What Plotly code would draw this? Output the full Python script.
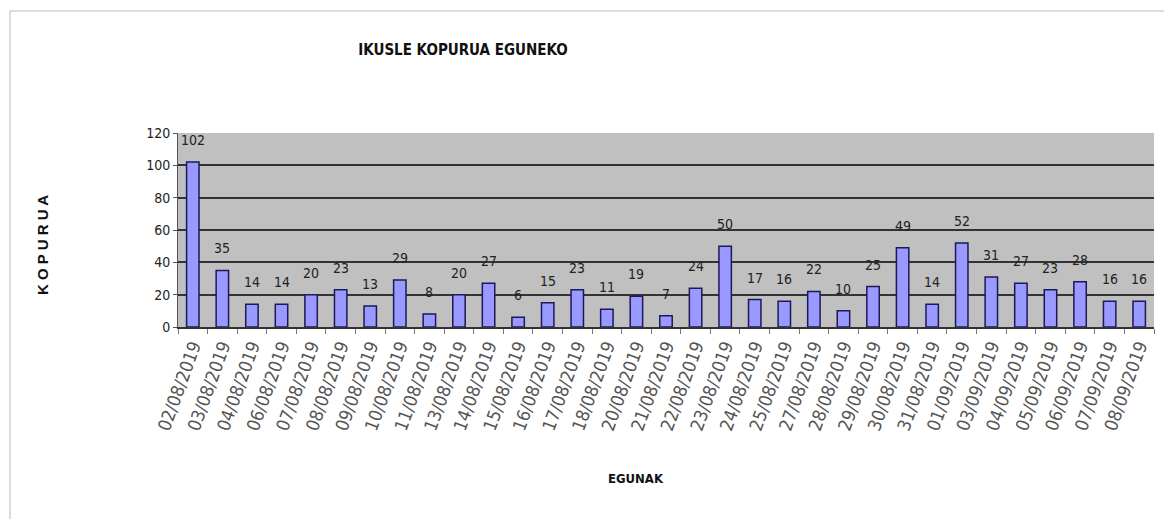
import plotly.graph_objects as go

dates = ["02/08/2019", "03/08/2019", "04/08/2019", "06/08/2019", "07/08/2019", "08/08/2019",
         "09/08/2019", "10/08/2019", "11/08/2019", "13/08/2019", "14/08/2019", "15/08/2019",
         "16/08/2019", "17/08/2019", "18/08/2019", "20/08/2019", "21/08/2019", "22/08/2019",
         "23/08/2019", "24/08/2019", "25/08/2019", "27/08/2019", "28/08/2019", "29/08/2019",
         "30/08/2019", "31/08/2019", "01/09/2019", "03/09/2019", "04/09/2019", "05/09/2019",
         "06/09/2019", "07/09/2019", "08/09/2019"]
values = [102, 35, 14, 14, 20, 23, 13, 29, 8, 20, 27, 6, 15, 23, 11, 19, 7, 24, 50, 17, 16,
          22, 10, 25, 49, 14, 52, 31, 27, 23, 28, 16, 16]
y_ticks = [0, 20, 40, 60, 80, 100, 120]

narrow = "DejaVu Sans Condensed, Liberation Sans Narrow, Liberation Sans, sans-serif"

# page body has an 8px margin; figure coordinates are reference coordinates minus 8
OFF = 8
W, H = 1172 - OFF, 519 - OFF
L, T = 178 - OFF, 133 - OFF
PW, PH = 976, 194
R, B = W - L - PW, H - T - PH


def px(x):
    return (x - 178) / PW


def py(y):
    return (327 - y) / PH


fig = go.Figure(go.Bar(
    x=dates, y=values,
    marker=dict(color="#9999ff", line=dict(color="#1a1a5a", width=1.5)),
    cliponaxis=False,
))

for d, v in zip(dates, values):
    fig.add_annotation(x=d, y=v, text=str(v), showarrow=False, yshift=22, yanchor="middle",
                       font=dict(family=narrow, size=14, color="#222"))

fig.update_layout(
    width=W, height=H,
    margin=dict(l=L, r=R, t=T, b=B, autoexpand=False),
    paper_bgcolor="white", plot_bgcolor="#c0c0c0",
    bargap=0.58, showlegend=False,
    title=dict(text="<b>IKUSLE KOPURUA EGUNEKO</b>", x=(463 - OFF) / W, xref="container", xanchor="center",
               y=1 - (50 - OFF) / H, yref="container", yanchor="middle",
               font=dict(family=narrow, size=15, color="#111")),
)
fig.update_yaxes(range=[0, 120], tickvals=y_ticks, showgrid=True, gridcolor="#333333", gridwidth=1.5,
                 tickfont=dict(family=narrow, size=14, color="#222"), ticks="outside", ticklen=4,
                 tickcolor="#555", showline=True, linecolor="#555", zeroline=False, automargin=False)
fig.update_xaxes(type="category", tickangle=-70, tickfont=dict(family=narrow, size=18, color="#555"),
                 ticks="outside", tickson="boundaries", ticklen=5, tickcolor="#777",
                 showline=True, linecolor="#333", linewidth=1.5, automargin=False)

fig.add_annotation(text="<b>K O P U R U A</b>", xref="paper", yref="paper", x=px(42), y=py(245),
                   xanchor="center", yanchor="middle",
                   textangle=-90, showarrow=False, font=dict(family="Liberation Sans, Arial", size=15, color="#111"))
fig.add_annotation(text="<b>EGUNAK</b>", xref="paper", yref="paper", x=px(636), y=py(478),
                   xanchor="center", yanchor="middle",
                   showarrow=False, font=dict(family=narrow, size=13, color="#111"))

# outer chart border (light gray)
for x0, y0, x1, y1 in [(px(10), py(11), px(1167), py(11)), (px(10), py(11), px(10), py(530)),
                       (px(1167), py(11), px(1167), py(530))]:
    fig.add_shape(type="line", xref="paper", yref="paper", x0=x0, y0=y0, x1=x1, y1=y1,
                  line=dict(color="#d0d0d0", width=1.5))

fig.write_html("out.html")
